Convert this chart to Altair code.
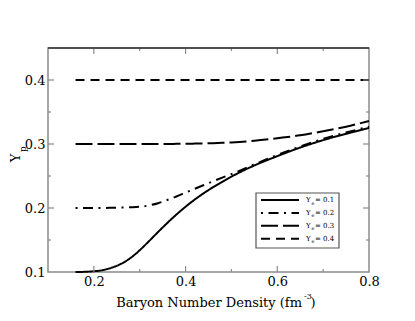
import altair as alt
import pandas as pd

# ---- data ----
density = [0.16, 0.18, 0.20, 0.22, 0.24, 0.26, 0.28, 0.30, 0.32, 0.34, 0.36, 0.38,
           0.40, 0.42, 0.44, 0.46, 0.48, 0.50, 0.55, 0.60, 0.65, 0.70, 0.75, 0.80]
yp_01 = [0.100, 0.1003, 0.1012, 0.103, 0.107, 0.113, 0.122, 0.134, 0.148, 0.1625, 0.1765, 0.1898,
         0.2020, 0.2132, 0.2233, 0.2325, 0.2410, 0.2490, 0.2665, 0.2810, 0.2945, 0.3060, 0.3160, 0.3250]
yp_02 = [0.200, 0.200, 0.200, 0.200, 0.2003, 0.2007, 0.2012, 0.202, 0.204, 0.2075, 0.2125, 0.218,
         0.224, 0.230, 0.236, 0.2418, 0.2475, 0.253, 0.268, 0.283, 0.296, 0.308, 0.318, 0.327]
yp_03 = [0.300, 0.300, 0.300, 0.300, 0.300, 0.300, 0.300, 0.300, 0.300, 0.300, 0.300, 0.3002,
         0.3004, 0.3006, 0.3009, 0.3013, 0.3018, 0.3025, 0.305, 0.309, 0.3135, 0.320, 0.327, 0.336]
yp_04 = [0.400] * len(density)

series_names = ["Ye = 0.1", "Ye = 0.2", "Ye = 0.3", "Ye = 0.4"]
legend_values = ["0.1", "0.2", "0.3", "0.4"]
dashes = [[1, 0], [2, 5.5, 10, 5.5], [17, 5], [9, 6]]

x_ticks = [0.2, 0.4, 0.6, 0.8]
y_ticks = [0.1, 0.2, 0.3, 0.4]
x_major_in = [0.2, 0.4, 0.6]
x_minor_in = [0.3, 0.5, 0.7]
y_major_in = [0.2, 0.3, 0.4]
y_minor_in = [0.15, 0.25, 0.35]

rows = []
for name, ys in zip(series_names, [yp_01, yp_02, yp_03, yp_04]):
    for xv, yv in zip(density, ys):
        rows.append({"series": name, "n": xv, "yp": yv})
df = pd.DataFrame(rows)

W, H = 321, 224
FONT = "DejaVu Serif"
FS = 13
FRAME = "#8a8a8a"

xscale = alt.Scale(domain=[0.1, 0.8], nice=False, zero=False)
yscale = alt.Scale(domain=[0.1, 0.45], nice=False, zero=False)
xaxis = alt.Axis(values=x_ticks, format=".1f", title=None, grid=False, domain=False,
                 ticks=False, tickSize=0, labelPadding=3, labelFont=FONT,
                 labelFontSize=FS, labelColor="black", labelFlush=False)
yaxis = alt.Axis(values=y_ticks, format=".1f", title=None, grid=False, domain=False,
                 ticks=False, tickSize=0, labelPadding=3, labelFont=FONT,
                 labelFontSize=FS, labelColor="black", labelFlush=False)

curves = alt.Chart(df).mark_line(color="black", strokeWidth=2, interpolate="monotone").encode(
    x=alt.X("n:Q", scale=xscale, axis=xaxis),
    y=alt.Y("yp:Q", scale=yscale, axis=yaxis),
    strokeDash=alt.StrokeDash("series:N", scale=alt.Scale(domain=series_names, range=dashes),
                              legend=None),
    detail="series:N",
)

# inward ticks
def xticks(vals, length):
    d = pd.DataFrame({"n": vals})
    b = alt.Chart(d).mark_rule(color=FRAME, strokeWidth=1.2).encode(
        x=alt.X("n:Q", scale=xscale, axis=xaxis), y=alt.value(H), y2=alt.value(H - length))
    t = alt.Chart(d).mark_rule(color=FRAME, strokeWidth=1.2).encode(
        x=alt.X("n:Q", scale=xscale, axis=xaxis), y=alt.value(0), y2=alt.value(length))
    return [b, t]

def yticks(vals, length):
    d = pd.DataFrame({"yp": vals})
    l = alt.Chart(d).mark_rule(color=FRAME, strokeWidth=1.2).encode(
        y=alt.Y("yp:Q", scale=yscale, axis=yaxis), x=alt.value(0), x2=alt.value(length))
    r = alt.Chart(d).mark_rule(color=FRAME, strokeWidth=1.2).encode(
        y=alt.Y("yp:Q", scale=yscale, axis=yaxis), x=alt.value(W), x2=alt.value(W - length))
    return [l, r]

one = pd.DataFrame({"k": [0]})

top_line = alt.Chart(one).mark_rule(color="#333333", strokeWidth=1.5).encode(
    x=alt.value(0), x2=alt.value(W), y=alt.value(0))

def txt(s, x, y, size, **kw):
    return alt.Chart(one).mark_text(text=s, font=FONT, fontSize=size, color="black", **kw).encode(
        x=alt.value(x), y=alt.value(y))

xtitle = [txt("Baryon Number Density (fm", 254, 259, FS, align="right", baseline="alphabetic"),
          txt("-3", 256, 250.5, 8, align="left", baseline="alphabetic"),
          txt(")", 262.5, 259, FS, align="left", baseline="alphabetic")]

ytitle = [txt("Y", -32, 110, FS, angle=270, align="center", baseline="middle"),
          txt("p", -25.5, 101, 9, angle=270, align="center", baseline="middle")]

# legend
legend_layers = [alt.Chart(one).mark_rect(fill="white", stroke="#555555", strokeWidth=1.2).encode(
    x=alt.value(208), x2=alt.value(291), y=alt.value(145), y2=alt.value(200))]
for i, (val, dash) in enumerate(zip(legend_values, dashes)):
    yy = 152 + i * 12.9
    legend_layers.append(alt.Chart(one).mark_rule(color="black", strokeWidth=2, strokeDash=dash).encode(
        x=alt.value(213), x2=alt.value(251), y=alt.value(yy)))
    legend_layers.append(txt("Y", 258, yy, 7, align="left", baseline="middle"))
    legend_layers.append(txt("e", 263.5, yy + 2.5, 5, align="left", baseline="middle"))
    legend_layers.append(txt("= " + val, 267, yy, 7, align="left", baseline="middle"))

chart = alt.layer(
    curves,
    *xticks(x_major_in, 6), *xticks(x_minor_in, 3),
    *yticks(y_major_in, 6), *yticks(y_minor_in, 3),
    top_line, *xtitle, *ytitle, *legend_layers,
).properties(
    width=W, height=H,
    autosize=alt.AutoSizeParams(type="none"),
    padding={"left": 40, "top": 40, "right": 30, "bottom": 41},
).configure_view(stroke=FRAME, strokeWidth=1.5)

chart.save("out.html", embed_options={"renderer": "svg", "actions": False})
